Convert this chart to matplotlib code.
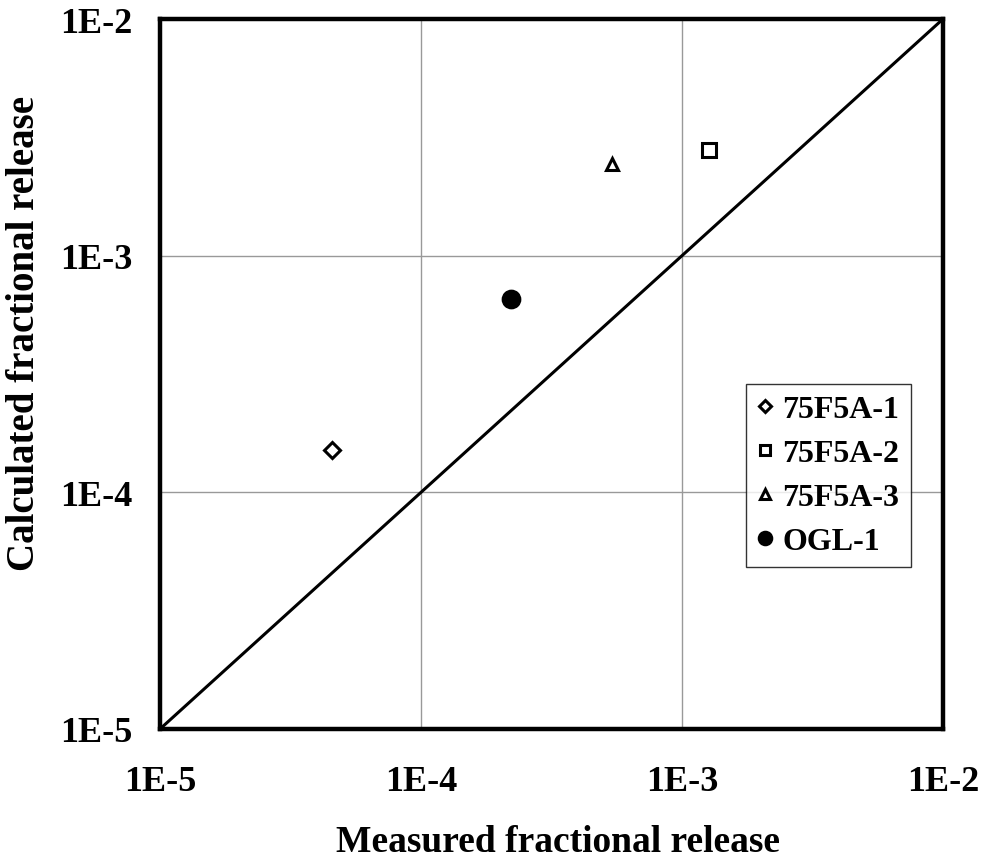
import numpy as np
import matplotlib.pyplot as plt

plt.rcParams['font.family'] = ['Liberation Serif', 'DejaVu Serif']
plt.rcParams['font.weight'] = 'bold'

names = ['75F5A-1', '75F5A-2', '75F5A-3', 'OGL-1']
measured = [4.56e-5, 1.27e-3, 5.40e-4, 2.21e-4]
calculated = [1.51e-4, 2.79e-3, 2.44e-3, 6.57e-4]
markers = ['D', 's', '^', 'o']
fills = ['none', 'none', 'none', 'black']
sizes = [8, 10, 9, 12]

ticks = [1e-5, 1e-4, 1e-3, 1e-2]
tick_labels = ['1E-5', '1E-4', '1E-3', '1E-2']

fig = plt.figure(figsize=(9.89, 8.62), dpi=100)
ax = fig.add_axes([160/989, 1 - 730/862, 783/989, 710/862])

ax.set_xscale('log')
ax.set_yscale('log')
ax.set_xlim(1e-5, 1e-2)
ax.set_ylim(1e-5, 1e-2)

ax.plot([1e-5, 1e-2], [1e-5, 1e-2], color='black', lw=2.2, zorder=2)

for n, mx, cy, m, f, s in zip(names, measured, calculated, markers, fills, sizes):
    ax.plot(mx, cy, linestyle='none', marker=m, markersize=s,
            markerfacecolor=f, markeredgecolor='black', markeredgewidth=2.2,
            label=n, zorder=3)

ax.set_xticks(ticks)
ax.set_xticklabels(tick_labels)
ax.set_yticks(ticks)
ax.set_yticklabels(tick_labels)
ax.minorticks_off()
ax.tick_params(length=0, labelsize=26)
ax.tick_params(axis='x', pad=26)
ax.tick_params(axis='y', pad=20)
ax.grid(True, color='#999999', lw=1)

for sp in ax.spines.values():
    sp.set_linewidth(3.2)

ax.set_xlabel('Measured fractional release', fontsize=27, fontweight='bold')
ax.set_ylabel('Calculated fractional release', fontsize=28, fontweight='bold')
ax.xaxis.set_label_coords(0.508, -0.134)
ax.yaxis.set_label_coords(-0.149, 0.558)

leg = ax.legend(loc='upper left', bbox_to_anchor=(0.748, 0.486),
                fontsize=23, frameon=True, fancybox=False, handlelength=0.5,
                handletextpad=0.3, borderpad=0.35, labelspacing=0.45, markerscale=0.75,
                borderaxespad=0)
leg.get_frame().set_edgecolor('black')
leg.get_frame().set_linewidth(1)

plt.savefig('out.png', dpi=100)
